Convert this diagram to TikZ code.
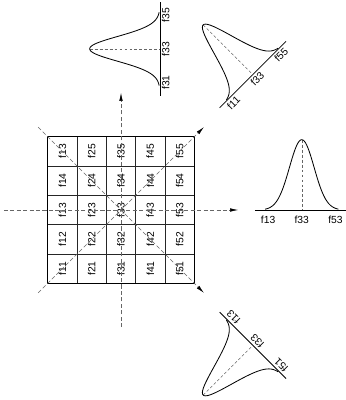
\documentclass[tikz,border=0pt]{standalone}
\usepackage{fontspec}
\setmainfont{Liberation Sans}
\usetikzlibrary{arrows.meta}

\begin{document}
\begin{tikzpicture}[
  ray/.style={draw=black!60, line width=0.5pt, dash pattern=on 1.4mm off 0.8mm},
  headed/.style={-{Latex[length=2.8mm, width=1.2mm, black]}},
  cellf/.style={rotate=90, inner sep=0pt, font=\fontsize{10}{11}\selectfont},
  tickf/.style={anchor=north, inner sep=0pt, font=\fontsize{10}{11}\selectfont},
  bell/.style={draw=black, line width=0.8pt},
  axisln/.style={draw=black, line width=0.7pt},
  mid/.style={draw=black!60, line width=0.4pt, dash pattern=on 1mm off 0.7mm}]
  \useasboundingbox (-4.13,-6.485) rectangle (7.645,7.167);

  % 5x5 grid
  \draw[black!85, line width=0.6pt, shift={(0.5,0.5)}] (-3,-3) grid (2,2);
  \draw[line width=0.9pt] (-2.5,-2.5) rectangle (2.5,2.5);
  \foreach \i in {1,...,5}
    \foreach \j in {1,...,5}{
      \ifnum\i\j=15 \def\lbl{f13}\else \def\lbl{f\i\j}\fi
      \node[cellf] (c\i\j) at (\i-3,\j-3) {\lbl};
    }

  % scan directions
  \coordinate (o) at (0,0);
  \foreach \a/\n in {0/e,90/n,180/w,270/s,45/ne,135/nw,225/sw,315/se}
    \coordinate (\n) at (\a:4);
  \draw[ray, headed] (w) -- (e);
  \draw[ray, headed] (s) -- (n);
  \draw[ray, headed] (sw) -- (ne);
  \draw[ray, headed] (nw) -- (se);

  % horizontal profile
  \begin{scope}[shift={(6.17,0)}]
    \draw[axisln] (-1.6,0) -- (1.5,0);
    \draw[mid] (0,2.4) -- (0,0);
    \draw[bell] plot[domain=-1.25:1.25, samples=61, smooth] (\x,{2.4*exp(-((\x)^2)/0.353)});
    \foreach \t/\u in {f13/-1.15, f33/0, f53/1.15}
      \node[tickf] (r\t) at (\u,-0.2) {\t};
  \end{scope}

  % vertical profile
  \begin{scope}[shift={(1.33,5.5)}, rotate=90]
    \draw[axisln] (-1.6,0) -- (1.6,0);
    \draw[mid] (0,2.4) -- (0,0);
    \draw[bell] plot[domain=-1.25:1.25, samples=61, smooth] (\x,{2.4*exp(-((\x)^2)/0.353)});
    \foreach \t/\u in {f31/-1.15, f33/0, f35/1.15}
      \node[tickf, rotate=90] (t\t) at (\u,-0.06) {\t};
  \end{scope}

  % diagonal profile
  \begin{scope}[shift={(4.5,4.62)}, rotate=45]
    \draw[axisln] (-1.6,0) -- (1.6,0);
    \draw[mid] (0,2.4) -- (0,0);
    \draw[bell] plot[domain=-1.25:1.25, samples=61, smooth] (\x,{2.4*exp(-((\x)^2)/0.353)});
    \foreach \t/\u in {f11/-1.15, f33/0, f55/1.15}
      \node[tickf, rotate=45] (d\t) at (\u,-0.08) {\t};
  \end{scope}

  % anti-diagonal profile
  \begin{scope}[shift={(4.5,-4.62)}, rotate=-45, yscale=-1]
    \draw[axisln] (-1.6,0) -- (1.6,0);
    \draw[mid] (0,2.4) -- (0,0);
    \draw[bell] plot[domain=-1.25:1.25, samples=61, smooth] (\x,{2.4*exp(-((\x)^2)/0.353)});
    \foreach \t/\u in {f13/-1.15, f33/0, f51/1.15}
      \node[tickf, rotate=135] (a\t) at (\u,-0.08) {\t};
  \end{scope}
\end{tikzpicture}
\end{document}
